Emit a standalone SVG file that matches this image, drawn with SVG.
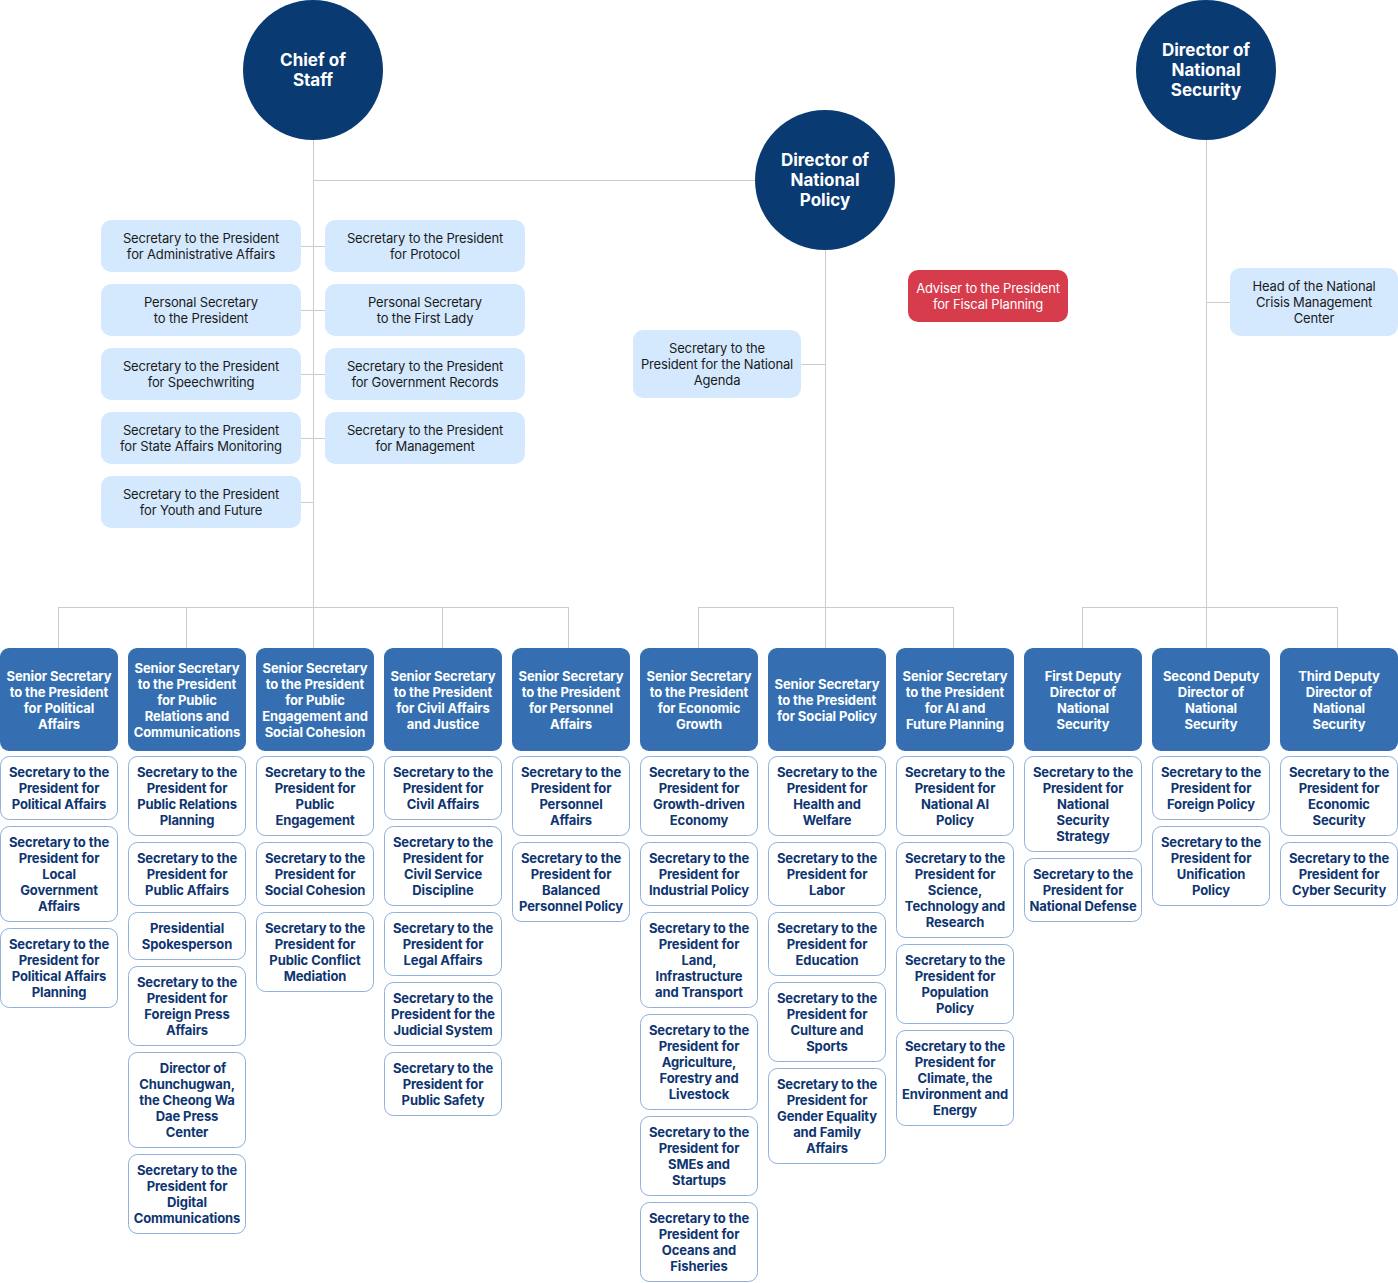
<svg xmlns="http://www.w3.org/2000/svg" width="1398" height="1283" viewBox="0 0 1398 1283">
<style>
text{font-family:Inter,"Noto Sans","Liberation Sans",sans-serif;text-anchor:middle}
.conn path{stroke:#cccccc;stroke-width:1;fill:none}
.circ{fill:#0a3a72}
.ct{fill:#ffffff;font-size:17px;font-weight:700}
.light{fill:#d4e9fd}
.lt{fill:#1b1b1b;font-size:13px;font-weight:400;letter-spacing:-0.15px}
.red{fill:#d63c4b}
.rt{fill:#ffffff;font-size:13px;font-weight:400;letter-spacing:-0.15px}
.sen{fill:#356fb1}
.st{fill:#ffffff;font-size:13px;font-weight:700;letter-spacing:-0.1px}
.sub{fill:#ffffff;stroke:#8fb1dc;stroke-width:1}
.sbt{fill:#0e3571;font-size:13px;font-weight:700;letter-spacing:-0.1px}
</style>
<rect width="1398" height="1283" fill="#ffffff"/>
<g class="conn">
<path d="M313.5 140V648M313.5 180.5H755"/>
<path d="M301 246.5H325M301 310.5H325M301 374.5H325M301 438.5H325M301 502.5H313"/>
<path d="M58.5 607.5H568.5M58.5 607V648M186.5 607V648M442.5 607V648M568.5 607V648"/>
<path d="M825.5 250V648M801 364.5H825M698.5 607.5H953.5M698.5 607V648M953.5 607V648"/>
<path d="M1206.5 140V648M1206.5 302.5H1230M1082.5 607.5H1337.5M1082.5 607V648M1337.5 607V648"/>
</g>
<g id="chief"><circle class="circ" cx="313" cy="70" r="70"/><text class="ct" x="313" y="66">Chief of<tspan x="313" dy="20">Staff</tspan></text></g>
<g id="policy"><circle class="circ" cx="825" cy="180" r="70"/><text class="ct" x="825" y="166">Director of<tspan x="825" dy="20">National</tspan><tspan x="825" dy="20">Policy</tspan></text></g>
<g id="security"><circle class="circ" cx="1206" cy="70" r="70"/><text class="ct" x="1206" y="56">Director of<tspan x="1206" dy="20">National</tspan><tspan x="1206" dy="20">Security</tspan></text></g>

<g id="l1"><rect class="light" x="101" y="220" width="200" height="52" rx="10"/><text class="lt" x="201" y="243">Secretary to the President<tspan x="201" dy="16">for Administrative Affairs</tspan></text></g>
<g id="r1"><rect class="light" x="325" y="220" width="200" height="52" rx="10"/><text class="lt" x="425" y="243">Secretary to the President<tspan x="425" dy="16">for Protocol</tspan></text></g>
<g id="l2"><rect class="light" x="101" y="284" width="200" height="52" rx="10"/><text class="lt" x="201" y="307">Personal Secretary<tspan x="201" dy="16">to the President</tspan></text></g>
<g id="r2"><rect class="light" x="325" y="284" width="200" height="52" rx="10"/><text class="lt" x="425" y="307">Personal Secretary<tspan x="425" dy="16">to the First Lady</tspan></text></g>
<g id="l3"><rect class="light" x="101" y="348" width="200" height="52" rx="10"/><text class="lt" x="201" y="371">Secretary to the President<tspan x="201" dy="16">for Speechwriting</tspan></text></g>
<g id="r3"><rect class="light" x="325" y="348" width="200" height="52" rx="10"/><text class="lt" x="425" y="371">Secretary to the President<tspan x="425" dy="16">for Government Records</tspan></text></g>
<g id="l4"><rect class="light" x="101" y="412" width="200" height="52" rx="10"/><text class="lt" x="201" y="435">Secretary to the President<tspan x="201" dy="16">for State Affairs Monitoring</tspan></text></g>
<g id="r4"><rect class="light" x="325" y="412" width="200" height="52" rx="10"/><text class="lt" x="425" y="435">Secretary to the President<tspan x="425" dy="16">for Management</tspan></text></g>
<g id="l5"><rect class="light" x="101" y="476" width="200" height="52" rx="10"/><text class="lt" x="201" y="499">Secretary to the President<tspan x="201" dy="16">for Youth and Future</tspan></text></g>

<g id="agenda"><rect class="light" x="633" y="330" width="168" height="68" rx="10"/><text class="lt" x="717" y="353">Secretary to the<tspan x="717" dy="16">President for the National</tspan><tspan x="717" dy="16">Agenda</tspan></text></g>
<g id="fiscal"><rect class="red" x="908" y="270" width="160" height="52" rx="10"/><text class="rt" x="988" y="293">Adviser to the President<tspan x="988" dy="16">for Fiscal Planning</tspan></text></g>
<g id="crisis"><rect class="light" x="1230" y="268" width="168" height="68" rx="10"/><text class="lt" x="1314" y="291">Head of the National<tspan x="1314" dy="16">Crisis Management</tspan><tspan x="1314" dy="16">Center</tspan></text></g>

<!-- Column 1 -->
<g id="s1"><rect class="sen" x="0" y="648" width="118" height="103" rx="9"/><text class="st" x="59" y="681">Senior Secretary<tspan x="59" dy="16">to the President</tspan><tspan x="59" dy="16">for Political</tspan><tspan x="59" dy="16">Affairs</tspan></text></g>
<g id="s1a"><rect class="sub" x="0.5" y="756.5" width="117" height="63" rx="9"/><text class="sbt" x="59" y="777">Secretary to the<tspan x="59" dy="16">President for</tspan><tspan x="59" dy="16">Political Affairs</tspan></text></g>
<g id="s1b"><rect class="sub" x="0.5" y="826.5" width="117" height="95" rx="9"/><text class="sbt" x="59" y="847">Secretary to the<tspan x="59" dy="16">President for</tspan><tspan x="59" dy="16">Local</tspan><tspan x="59" dy="16">Government</tspan><tspan x="59" dy="16">Affairs</tspan></text></g>
<g id="s1c"><rect class="sub" x="0.5" y="928.5" width="117" height="79" rx="9"/><text class="sbt" x="59" y="949">Secretary to the<tspan x="59" dy="16">President for</tspan><tspan x="59" dy="16">Political Affairs</tspan><tspan x="59" dy="16">Planning</tspan></text></g>

<!-- Column 2 -->
<g id="s2"><rect class="sen" x="128" y="648" width="118" height="103" rx="9"/><text class="st" x="187" y="673">Senior Secretary<tspan x="187" dy="16">to the President</tspan><tspan x="187" dy="16">for Public</tspan><tspan x="187" dy="16">Relations and</tspan><tspan x="187" dy="16">Communications</tspan></text></g>
<g id="s2a"><rect class="sub" x="128.5" y="756.5" width="117" height="79" rx="9"/><text class="sbt" x="187" y="777">Secretary to the<tspan x="187" dy="16">President for</tspan><tspan x="187" dy="16">Public Relations</tspan><tspan x="187" dy="16">Planning</tspan></text></g>
<g id="s2b"><rect class="sub" x="128.5" y="842.5" width="117" height="63" rx="9"/><text class="sbt" x="187" y="863">Secretary to the<tspan x="187" dy="16">President for</tspan><tspan x="187" dy="16">Public Affairs</tspan></text></g>
<g id="s2c"><rect class="sub" x="128.5" y="912.5" width="117" height="47" rx="9"/><text class="sbt" x="187" y="933">Presidential<tspan x="187" dy="16">Spokesperson</tspan></text></g>
<g id="s2d"><rect class="sub" x="128.5" y="966.5" width="117" height="79" rx="9"/><text class="sbt" x="187" y="987">Secretary to the<tspan x="187" dy="16">President for</tspan><tspan x="187" dy="16">Foreign Press</tspan><tspan x="187" dy="16">Affairs</tspan></text></g>
<g id="s2e"><rect class="sub" x="128.5" y="1052.5" width="117" height="95" rx="9"/><text class="sbt" x="187" y="1073"><tspan x="193" dy="0">Director of</tspan><tspan x="187" dy="16">Chunchugwan,</tspan><tspan x="187" dy="16">the Cheong Wa</tspan><tspan x="187" dy="16">Dae Press</tspan><tspan x="187" dy="16">Center</tspan></text></g>
<g id="s2f"><rect class="sub" x="128.5" y="1154.5" width="117" height="79" rx="9"/><text class="sbt" x="187" y="1175">Secretary to the<tspan x="187" dy="16">President for</tspan><tspan x="187" dy="16">Digital</tspan><tspan x="187" dy="16">Communications</tspan></text></g>

<!-- Column 3 -->
<g id="s3"><rect class="sen" x="256" y="648" width="118" height="103" rx="9"/><text class="st" x="315" y="673">Senior Secretary<tspan x="315" dy="16">to the President</tspan><tspan x="315" dy="16">for Public</tspan><tspan x="315" dy="16">Engagement and</tspan><tspan x="315" dy="16">Social Cohesion</tspan></text></g>
<g id="s3a"><rect class="sub" x="256.5" y="756.5" width="117" height="79" rx="9"/><text class="sbt" x="315" y="777">Secretary to the<tspan x="315" dy="16">President for</tspan><tspan x="315" dy="16">Public</tspan><tspan x="315" dy="16">Engagement</tspan></text></g>
<g id="s3b"><rect class="sub" x="256.5" y="842.5" width="117" height="63" rx="9"/><text class="sbt" x="315" y="863">Secretary to the<tspan x="315" dy="16">President for</tspan><tspan x="315" dy="16">Social Cohesion</tspan></text></g>
<g id="s3c"><rect class="sub" x="256.5" y="912.5" width="117" height="79" rx="9"/><text class="sbt" x="315" y="933">Secretary to the<tspan x="315" dy="16">President for</tspan><tspan x="315" dy="16">Public Conflict</tspan><tspan x="315" dy="16">Mediation</tspan></text></g>

<!-- Column 4 -->
<g id="s4"><rect class="sen" x="384" y="648" width="118" height="103" rx="9"/><text class="st" x="443" y="681">Senior Secretary<tspan x="443" dy="16">to the President</tspan><tspan x="443" dy="16">for Civil Affairs</tspan><tspan x="443" dy="16">and Justice</tspan></text></g>
<g id="s4a"><rect class="sub" x="384.5" y="756.5" width="117" height="63" rx="9"/><text class="sbt" x="443" y="777">Secretary to the<tspan x="443" dy="16">President for</tspan><tspan x="443" dy="16">Civil Affairs</tspan></text></g>
<g id="s4b"><rect class="sub" x="384.5" y="826.5" width="117" height="79" rx="9"/><text class="sbt" x="443" y="847">Secretary to the<tspan x="443" dy="16">President for</tspan><tspan x="443" dy="16">Civil Service</tspan><tspan x="443" dy="16">Discipline</tspan></text></g>
<g id="s4c"><rect class="sub" x="384.5" y="912.5" width="117" height="63" rx="9"/><text class="sbt" x="443" y="933">Secretary to the<tspan x="443" dy="16">President for</tspan><tspan x="443" dy="16">Legal Affairs</tspan></text></g>
<g id="s4d"><rect class="sub" x="384.5" y="982.5" width="117" height="63" rx="9"/><text class="sbt" x="443" y="1003">Secretary to the<tspan x="443" dy="16">President for the</tspan><tspan x="443" dy="16">Judicial System</tspan></text></g>
<g id="s4e"><rect class="sub" x="384.5" y="1052.5" width="117" height="63" rx="9"/><text class="sbt" x="443" y="1073">Secretary to the<tspan x="443" dy="16">President for</tspan><tspan x="443" dy="16">Public Safety</tspan></text></g>

<!-- Column 5 -->
<g id="s5"><rect class="sen" x="512" y="648" width="118" height="103" rx="9"/><text class="st" x="571" y="681">Senior Secretary<tspan x="571" dy="16">to the President</tspan><tspan x="571" dy="16">for Personnel</tspan><tspan x="571" dy="16">Affairs</tspan></text></g>
<g id="s5a"><rect class="sub" x="512.5" y="756.5" width="117" height="79" rx="9"/><text class="sbt" x="571" y="777">Secretary to the<tspan x="571" dy="16">President for</tspan><tspan x="571" dy="16">Personnel</tspan><tspan x="571" dy="16">Affairs</tspan></text></g>
<g id="s5b"><rect class="sub" x="512.5" y="842.5" width="117" height="79" rx="9"/><text class="sbt" x="571" y="863">Secretary to the<tspan x="571" dy="16">President for</tspan><tspan x="571" dy="16">Balanced</tspan><tspan x="571" dy="16">Personnel Policy</tspan></text></g>

<!-- Column 6 -->
<g id="s6"><rect class="sen" x="640" y="648" width="118" height="103" rx="9"/><text class="st" x="699" y="681">Senior Secretary<tspan x="699" dy="16">to the President</tspan><tspan x="699" dy="16">for Economic</tspan><tspan x="699" dy="16">Growth</tspan></text></g>
<g id="s6a"><rect class="sub" x="640.5" y="756.5" width="117" height="79" rx="9"/><text class="sbt" x="699" y="777">Secretary to the<tspan x="699" dy="16">President for</tspan><tspan x="699" dy="16">Growth-driven</tspan><tspan x="699" dy="16">Economy</tspan></text></g>
<g id="s6b"><rect class="sub" x="640.5" y="842.5" width="117" height="63" rx="9"/><text class="sbt" x="699" y="863">Secretary to the<tspan x="699" dy="16">President for</tspan><tspan x="699" dy="16">Industrial Policy</tspan></text></g>
<g id="s6c"><rect class="sub" x="640.5" y="912.5" width="117" height="95" rx="9"/><text class="sbt" x="699" y="933">Secretary to the<tspan x="699" dy="16">President for</tspan><tspan x="699" dy="16">Land,</tspan><tspan x="699" dy="16">Infrastructure</tspan><tspan x="699" dy="16">and Transport</tspan></text></g>
<g id="s6d"><rect class="sub" x="640.5" y="1014.5" width="117" height="95" rx="9"/><text class="sbt" x="699" y="1035">Secretary to the<tspan x="699" dy="16">President for</tspan><tspan x="699" dy="16">Agriculture,</tspan><tspan x="699" dy="16">Forestry and</tspan><tspan x="699" dy="16">Livestock</tspan></text></g>
<g id="s6e"><rect class="sub" x="640.5" y="1116.5" width="117" height="79" rx="9"/><text class="sbt" x="699" y="1137">Secretary to the<tspan x="699" dy="16">President for</tspan><tspan x="699" dy="16">SMEs and</tspan><tspan x="699" dy="16">Startups</tspan></text></g>
<g id="s6f"><rect class="sub" x="640.5" y="1202.5" width="117" height="79" rx="9"/><text class="sbt" x="699" y="1223">Secretary to the<tspan x="699" dy="16">President for</tspan><tspan x="699" dy="16">Oceans and</tspan><tspan x="699" dy="16">Fisheries</tspan></text></g>

<!-- Column 7 -->
<g id="s7"><rect class="sen" x="768" y="648" width="118" height="103" rx="9"/><text class="st" x="827" y="689">Senior Secretary<tspan x="827" dy="16">to the President</tspan><tspan x="827" dy="16">for Social Policy</tspan></text></g>
<g id="s7a"><rect class="sub" x="768.5" y="756.5" width="117" height="79" rx="9"/><text class="sbt" x="827" y="777">Secretary to the<tspan x="827" dy="16">President for</tspan><tspan x="827" dy="16">Health and</tspan><tspan x="827" dy="16">Welfare</tspan></text></g>
<g id="s7b"><rect class="sub" x="768.5" y="842.5" width="117" height="63" rx="9"/><text class="sbt" x="827" y="863">Secretary to the<tspan x="827" dy="16">President for</tspan><tspan x="827" dy="16">Labor</tspan></text></g>
<g id="s7c"><rect class="sub" x="768.5" y="912.5" width="117" height="63" rx="9"/><text class="sbt" x="827" y="933">Secretary to the<tspan x="827" dy="16">President for</tspan><tspan x="827" dy="16">Education</tspan></text></g>
<g id="s7d"><rect class="sub" x="768.5" y="982.5" width="117" height="79" rx="9"/><text class="sbt" x="827" y="1003">Secretary to the<tspan x="827" dy="16">President for</tspan><tspan x="827" dy="16">Culture and</tspan><tspan x="827" dy="16">Sports</tspan></text></g>
<g id="s7e"><rect class="sub" x="768.5" y="1068.5" width="117" height="95" rx="9"/><text class="sbt" x="827" y="1089">Secretary to the<tspan x="827" dy="16">President for</tspan><tspan x="827" dy="16">Gender Equality</tspan><tspan x="827" dy="16">and Family</tspan><tspan x="827" dy="16">Affairs</tspan></text></g>

<!-- Column 8 -->
<g id="s8"><rect class="sen" x="896" y="648" width="118" height="103" rx="9"/><text class="st" x="955" y="681">Senior Secretary<tspan x="955" dy="16">to the President</tspan><tspan x="955" dy="16">for AI and</tspan><tspan x="955" dy="16">Future Planning</tspan></text></g>
<g id="s8a"><rect class="sub" x="896.5" y="756.5" width="117" height="79" rx="9"/><text class="sbt" x="955" y="777">Secretary to the<tspan x="955" dy="16">President for</tspan><tspan x="955" dy="16">National AI</tspan><tspan x="955" dy="16">Policy</tspan></text></g>
<g id="s8b"><rect class="sub" x="896.5" y="842.5" width="117" height="95" rx="9"/><text class="sbt" x="955" y="863">Secretary to the<tspan x="955" dy="16">President for</tspan><tspan x="955" dy="16">Science,</tspan><tspan x="955" dy="16">Technology and</tspan><tspan x="955" dy="16">Research</tspan></text></g>
<g id="s8c"><rect class="sub" x="896.5" y="944.5" width="117" height="79" rx="9"/><text class="sbt" x="955" y="965">Secretary to the<tspan x="955" dy="16">President for</tspan><tspan x="955" dy="16">Population</tspan><tspan x="955" dy="16">Policy</tspan></text></g>
<g id="s8d"><rect class="sub" x="896.5" y="1030.5" width="117" height="95" rx="9"/><text class="sbt" x="955" y="1051">Secretary to the<tspan x="955" dy="16">President for</tspan><tspan x="955" dy="16">Climate, the</tspan><tspan x="955" dy="16">Environment and</tspan><tspan x="955" dy="16">Energy</tspan></text></g>

<!-- Column 9 -->
<g id="s9"><rect class="sen" x="1024" y="648" width="118" height="103" rx="9"/><text class="st" x="1083" y="681">First Deputy<tspan x="1083" dy="16">Director of</tspan><tspan x="1083" dy="16">National</tspan><tspan x="1083" dy="16">Security</tspan></text></g>
<g id="s9a"><rect class="sub" x="1024.5" y="756.5" width="117" height="95" rx="9"/><text class="sbt" x="1083" y="777">Secretary to the<tspan x="1083" dy="16">President for</tspan><tspan x="1083" dy="16">National</tspan><tspan x="1083" dy="16">Security</tspan><tspan x="1083" dy="16">Strategy</tspan></text></g>
<g id="s9b"><rect class="sub" x="1024.5" y="858.5" width="117" height="63" rx="9"/><text class="sbt" x="1083" y="879">Secretary to the<tspan x="1083" dy="16">President for</tspan><tspan x="1083" dy="16">National Defense</tspan></text></g>

<!-- Column 10 -->
<g id="s10"><rect class="sen" x="1152" y="648" width="118" height="103" rx="9"/><text class="st" x="1211" y="681">Second Deputy<tspan x="1211" dy="16">Director of</tspan><tspan x="1211" dy="16">National</tspan><tspan x="1211" dy="16">Security</tspan></text></g>
<g id="s10a"><rect class="sub" x="1152.5" y="756.5" width="117" height="63" rx="9"/><text class="sbt" x="1211" y="777">Secretary to the<tspan x="1211" dy="16">President for</tspan><tspan x="1211" dy="16">Foreign Policy</tspan></text></g>
<g id="s10b"><rect class="sub" x="1152.5" y="826.5" width="117" height="79" rx="9"/><text class="sbt" x="1211" y="847">Secretary to the<tspan x="1211" dy="16">President for</tspan><tspan x="1211" dy="16">Unification</tspan><tspan x="1211" dy="16">Policy</tspan></text></g>

<!-- Column 11 -->
<g id="s11"><rect class="sen" x="1280" y="648" width="118" height="103" rx="9"/><text class="st" x="1339" y="681">Third Deputy<tspan x="1339" dy="16">Director of</tspan><tspan x="1339" dy="16">National</tspan><tspan x="1339" dy="16">Security</tspan></text></g>
<g id="s11a"><rect class="sub" x="1280.5" y="756.5" width="117" height="79" rx="9"/><text class="sbt" x="1339" y="777">Secretary to the<tspan x="1339" dy="16">President for</tspan><tspan x="1339" dy="16">Economic</tspan><tspan x="1339" dy="16">Security</tspan></text></g>
<g id="s11b"><rect class="sub" x="1280.5" y="842.5" width="117" height="63" rx="9"/><text class="sbt" x="1339" y="863">Secretary to the<tspan x="1339" dy="16">President for</tspan><tspan x="1339" dy="16">Cyber Security</tspan></text></g>
</svg>
